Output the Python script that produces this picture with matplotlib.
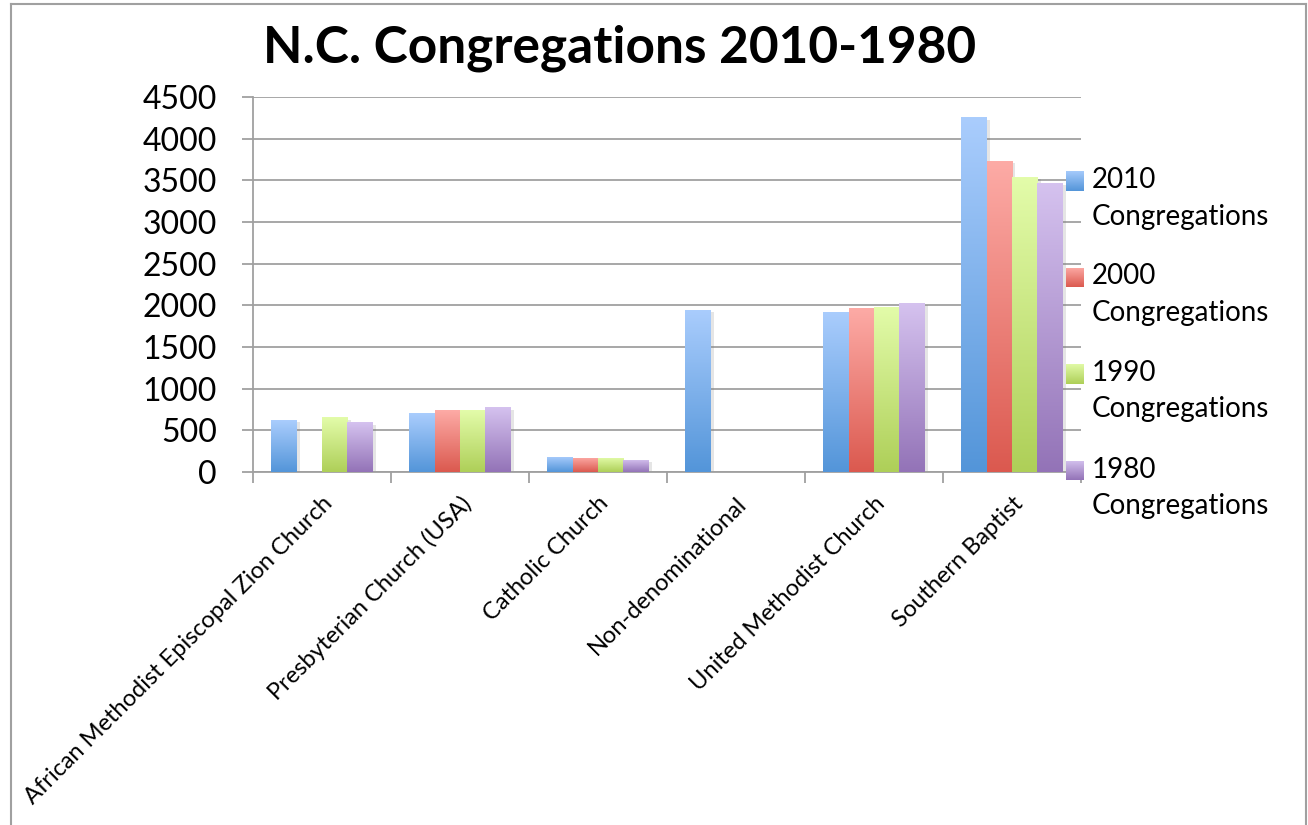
import matplotlib
matplotlib.use('Agg')
import matplotlib.pyplot as plt
import matplotlib.patheffects as pe
from matplotlib.colors import LinearSegmentedColormap
from matplotlib.lines import Line2D
import numpy as np

matplotlib.rcParams['font.family'] = ['Lato', 'DejaVu Sans']

categories = ['African Methodist Episcopal Zion Church', 'Presbyterian Church (USA)',
              'Catholic Church', 'Non-denominational', 'United Methodist Church',
              'Southern Baptist']
series_names = ['2010\nCongregations', '2000\nCongregations',
                '1990\nCongregations', '1980\nCongregations']
c2010 = [620, 705, 185, 1950, 1925, 4255]
c2000 = [0, 740, 170, 0, 1965, 3730]
c1990 = [655, 740, 170, 0, 1985, 3540]
c1980 = [595, 775, 150, 0, 2025, 3465]
series = [c2010, c2000, c1990, c1980]

# (top colour, bottom colour) for the gradient fills
grads = [('#aacdfd', '#5395d9'),
         ('#fdaba6', '#db594f'),
         ('#e3fcaa', '#aecf58'),
         ('#d5c2ef', '#9373b7')]

fig = plt.figure(figsize=(13.08, 8.25), dpi=100)
ax = fig.add_axes([253 / 1308, 1 - 472 / 825, (1081 - 253) / 1308, (472 - 97) / 825])

grad = np.linspace(0, 1, 256).reshape(-1, 1)
bw = 0.183
x = np.arange(len(categories)) + 0.5
for k, (vals, (top, bot)) in enumerate(zip(series, grads)):
    cmap = LinearSegmentedColormap.from_list('g%d' % k, [bot, top])
    bars = ax.bar(x + (k - 1.5) * bw, vals, width=bw, color='white', zorder=2,
                  linewidth=0)
    for b in bars:
        if b.get_height() <= 0:
            continue
        b.set_path_effects([pe.SimplePatchShadow(offset=(2.5, -1.5), shadow_rgbFace='gray',
                                                 alpha=0.2), pe.Normal()])
        x0, y0 = b.get_x(), b.get_y()
        im = ax.imshow(grad, cmap=cmap, origin='lower', aspect='auto', zorder=3,
                       extent=(x0, x0 + b.get_width(), y0, y0 + b.get_height()))
        im.set_clip_path(b)

ax.set_xlim(0, len(categories))
ax.set_ylim(0, 4500)
ax.set_yticks(np.arange(0, 4501, 500))
ax.yaxis.grid(True, color='#a0a0a0', linewidth=1.3)
ax.set_axisbelow(True)
for s in ['top', 'right']:
    ax.spines[s].set_visible(False)
ax.spines['left'].set_color('#a0a0a0')
ax.spines['bottom'].set_color('#a0a0a0')
ax.spines['left'].set_linewidth(1.3)
ax.spines['bottom'].set_linewidth(1.3)

ax.set_xticks(np.arange(0, len(categories) + 1))
ax.set_xticklabels([])
ax.set_xticks(x, minor=True)
ax.set_xticklabels(categories, minor=True, rotation=45, ha='right',
                   rotation_mode='anchor', fontsize=17)
ax.tick_params(axis='x', which='major', length=8, width=1.3, color='#a0a0a0')
ax.tick_params(axis='x', which='minor', length=0, pad=15)
ax.tick_params(axis='y', length=8, width=1.3, color='#a0a0a0', pad=18, labelsize=23)

fig.text(0.474, 0.942, 'N.C. Congregations 2010-1980', ha='center', va='center',
         fontsize=37, fontweight='bold')

# legend
for k, (name, (top, bot)) in enumerate(zip(series_names, grads)):
    yc = 181 + k * 96.5
    cmap = LinearSegmentedColormap.from_list('l%d' % k, [bot, top])
    lax = fig.add_axes([1066 / 1308, 1 - (yc + 10) / 825, 18 / 1308, 20 / 825])
    lax.imshow(grad, cmap=cmap, origin='lower', aspect='auto')
    lax.axis('off')
    fig.text(1092 / 1308, 1 - (yc - 14) / 825, name, ha='left', va='top',
             fontsize=20, linespacing=1.5)

# chart border
for xs, ys in [([11, 11], [4, 825]), ([11, 1306], [4, 4]), ([1306, 1306], [4, 825])]:
    fig.add_artist(Line2D([v / 1308 for v in xs], [1 - v / 825 for v in ys],
                          color='#a0a0a0', linewidth=1.5))

fig.savefig('out.png', dpi=100)
